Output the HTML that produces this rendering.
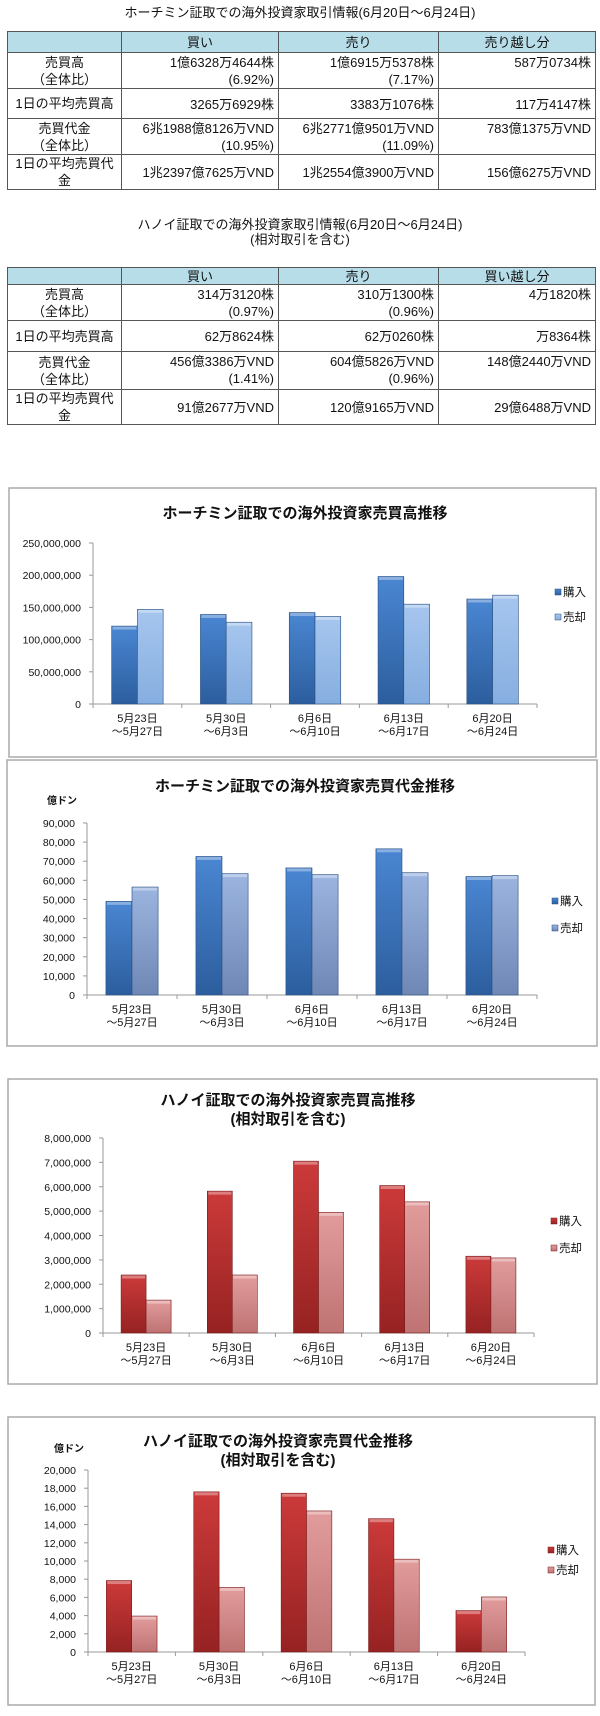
<!DOCTYPE html>
<html><head><meta charset="utf-8">
<style>
body{margin:0;background:#fff;width:600px;height:1716px;position:relative;overflow:hidden;font-family:"Liberation Sans","Noto Sans CJK JP",sans-serif;color:#111}
.ttl{position:absolute;left:0;width:600px;text-align:center;font-size:13px;line-height:15px}
table{position:absolute;left:7px;border-collapse:collapse;font-size:13px;table-layout:fixed}
td{border:1px solid #555;padding:0 4px;line-height:17px;vertical-align:top}
td.h{background:#b7dde8;text-align:center;vertical-align:middle}
td.l{text-align:center;vertical-align:middle;padding:0 2px}
td.n{text-align:right;vertical-align:top;padding-top:1px}
svg{position:absolute;left:0;top:0}
</style></head><body>
<div class="ttl" style="top:5px">ホーチミン証取での海外投資家取引情報(6月20日～6月24日)</div>
<table style="top:31px">
<colgroup><col style="width:114px"><col style="width:157px"><col style="width:160px"><col style="width:157px"></colgroup>
<tr style="height:21px"><td class="h"></td><td class="h">買い</td><td class="h">売り</td><td class="h">売り越し分</td></tr>
<tr style="height:35px"><td class="l">売買高<br>（全体比）</td><td class="n">1億6328万4644株<br>(6.92%)</td><td class="n">1億6915万5378株<br>(7.17%)</td><td class="n">587万0734株</td></tr>
<tr style="height:30px"><td class="l">1日の平均売買高</td><td class="n" style="vertical-align:middle">3265万6929株</td><td class="n" style="vertical-align:middle">3383万1076株</td><td class="n" style="vertical-align:middle">117万4147株</td></tr>
<tr style="height:35px"><td class="l">売買代金<br>（全体比）</td><td class="n">6兆1988億8126万VND<br>(10.95%)</td><td class="n">6兆2771億9501万VND<br>(11.09%)</td><td class="n">783億1375万VND</td></tr>
<tr style="height:30px"><td class="l">1日の平均売買代金</td><td class="n" style="vertical-align:middle">1兆2397億7625万VND</td><td class="n" style="vertical-align:middle">1兆2554億3900万VND</td><td class="n" style="vertical-align:middle">156億6275万VND</td></tr>
</table>
<div class="ttl" style="top:217px">ハノイ証取での海外投資家取引情報(6月20日～6月24日)<br>(相対取引を含む)</div>
<table style="top:267px">
<colgroup><col style="width:114px"><col style="width:157px"><col style="width:160px"><col style="width:157px"></colgroup>
<tr style="height:17px"><td class="h" style="line-height:15px"></td><td class="h" style="line-height:15px">買い</td><td class="h" style="line-height:15px">売り</td><td class="h" style="line-height:15px">買い越し分</td></tr>
<tr style="height:35px"><td class="l">売買高<br>（全体比）</td><td class="n">314万3120株<br>(0.97%)</td><td class="n">310万1300株<br>(0.96%)</td><td class="n">4万1820株</td></tr>
<tr style="height:31px"><td class="l">1日の平均売買高</td><td class="n" style="vertical-align:middle">62万8624株</td><td class="n" style="vertical-align:middle">62万0260株</td><td class="n" style="vertical-align:middle">万8364株</td></tr>
<tr style="height:38px"><td class="l">売買代金<br>（全体比）</td><td class="n">456億3386万VND<br>(1.41%)</td><td class="n">604億5826万VND<br>(0.96%)</td><td class="n">148億2440万VND</td></tr>
<tr style="height:32px"><td class="l">1日の平均売買代金</td><td class="n" style="vertical-align:middle">91億2677万VND</td><td class="n" style="vertical-align:middle">120億9165万VND</td><td class="n" style="vertical-align:middle">29億6488万VND</td></tr>
</table>
<svg id="charts" width="600" height="1716">
<defs>
<linearGradient id="gB" x1="0" y1="0" x2="0" y2="1"><stop offset="0" stop-color="#4a86d2"/><stop offset="1" stop-color="#2c5e9e"/></linearGradient>
<linearGradient id="gLB" x1="0" y1="0" x2="0" y2="1"><stop offset="0" stop-color="#a6c6ee"/><stop offset="1" stop-color="#86aee0"/></linearGradient>
<linearGradient id="gGB" x1="0" y1="0" x2="0" y2="1"><stop offset="0" stop-color="#9bb5e0"/><stop offset="1" stop-color="#6f87b5"/></linearGradient>
<linearGradient id="gR" x1="0" y1="0" x2="0" y2="1"><stop offset="0" stop-color="#cc3a3a"/><stop offset="1" stop-color="#962222"/></linearGradient>
<linearGradient id="gLR" x1="0" y1="0" x2="0" y2="1"><stop offset="0" stop-color="#e29c9c"/><stop offset="1" stop-color="#bf7373"/></linearGradient>
</defs>
</svg>
<script>
const categoriesL1 = ["5月23日","5月30日","6月6日","6月13日","6月20日"];
const categoriesL2 = ["～5月27日","～6月3日","～6月10日","～6月17日","～6月24日"];
const hcmVolBuy = [121000000,139000000,142000000,198000000,163000000];
const hcmVolSell = [147000000,127000000,136000000,155000000,169000000];
const hcmVolTicks = ["0","50,000,000","100,000,000","150,000,000","200,000,000","250,000,000"];
const hcmValBuy = [49000,72500,66500,76500,62000];
const hcmValSell = [56500,63500,63000,64000,62500];
const hcmValTicks = ["0","10,000","20,000","30,000","40,000","50,000","60,000","70,000","80,000","90,000"];
const hnVolBuy = [2380000,5820000,7050000,6050000,3150000];
const hnVolSell = [1350000,2380000,4950000,5380000,3080000];
const hnVolTicks = ["0","1,000,000","2,000,000","3,000,000","4,000,000","5,000,000","6,000,000","7,000,000","8,000,000"];
const hnValBuy = [7850,17600,17450,14650,4550];
const hnValSell = [3950,7100,15500,10200,6050];
const hnValTicks = ["0","2,000","4,000","6,000","8,000","10,000","12,000","14,000","16,000","18,000","20,000"];
const legendNames = ["購入","売却"];

const svg = document.getElementById('charts');
const NS = 'http://www.w3.org/2000/svg';
function mk(tag, attrs){const e=document.createElementNS(NS,tag);for(const k in attrs)e.setAttribute(k,attrs[k]);svg.appendChild(e);return e;}
function txt(x,y,s,size,anchor,weight){const t=mk('text',{x:x,y:y,'font-size':size,'text-anchor':anchor||'start','font-weight':weight||'normal','font-family':'"Liberation Sans","Noto Sans CJK JP",sans-serif',fill:'#111'});t.textContent=s;return t;}

function chart(c){
  const box=mk('rect',{x:c.bx,y:c.by,width:c.bw,height:c.bh,fill:'#fff',stroke:'#aaa','stroke-width':1.5});
  
  
  c.titles.forEach((t,i)=>{const e=txt(c.tx,c.ty+i*19,t,15,'middle','bold');
    
    });
  if(c.unit){const u=txt(c.ux,c.uy,'億ドン',10,'start','bold');
    
    }
  const maxV=parseFloat(c.ticks[c.ticks.length-1].replace(/,/g,''));
  const y=v=>c.y0-(v/maxV)*(c.y0-c.y1);
  const cw=(c.x1-c.x0)/c.buy.length;
  const xc=i=>c.x0+cw*(i+0.5);
  const bw=cw*0.29;
  c.ticks.forEach(t=>{const v=parseFloat(t.replace(/,/g,''));
    const tl=txt(c.x0-12,y(v)+4,t,10.5,'end');
    
    
    mk('line',{x1:c.x0-4,x2:c.x0,y1:y(v),y2:y(v),stroke:'#999'});});
  mk('line',{x1:c.x0,x2:c.x0,y1:c.y1,y2:c.y0,stroke:'#999'});
  mk('line',{x1:c.x0,x2:c.x1,y1:c.y0,y2:c.y0,stroke:'#999'});
  for(let i=0;i<=c.buy.length;i++)mk('line',{x1:c.x0+cw*i,x2:c.x0+cw*i,y1:c.y0,y2:c.y0+4,stroke:'#999'});
  [[c.buy,c.g1,'buy'],[c.sell,c.g2,'sell']].forEach((s,si)=>{
    s[0].forEach((v,i)=>{
      const x=xc(i)-bw+si*bw;
      const r=mk('rect',{x:x,y:y(v),width:bw,height:c.y0-y(v),fill:'url(#'+s[1]+')',stroke:c.edge,'stroke-width':0.6});
      
      
      mk('rect',{x:x+1,y:y(v)+0.5,width:bw-2,height:3,fill:'#fff','fill-opacity':0.35});
    });
  });
  categoriesL1.forEach((l,i)=>{
    const a=txt(xc(i),c.y0+18,l,11,'middle');
    
    
    const b=txt(xc(i),c.y0+31,categoriesL2[i],11,'middle');
    
    
  });
  legendNames.forEach((n,i)=>{
    mk('rect',{x:c.lx,y:c.ly+i*c.lg-7,width:6,height:6,fill:'url(#'+(i?c.g2:c.g1)+')',stroke:c.edge,'stroke-width':0.5});
    const e=txt(c.lx+8,c.ly+i*c.lg,n,11.5,'start');
    
    
  });
}
chart({id:'hcm-volume',bx:9,by:488,bw:587,bh:269,titles:['ホーチミン証取での海外投資家売買高推移'],tx:305,ty:518,
  ticks:hcmVolTicks,buy:hcmVolBuy,sell:hcmVolSell,x0:93,x1:537,y0:704,y1:543,g1:'gB',g2:'gLB',edge:'#2a4f80',lx:555,ly:596,lg:25});
chart({id:'hcm-value',bx:7,by:760,bw:590,bh:286,titles:['ホーチミン証取での海外投資家売買代金推移'],tx:305,ty:791,unit:1,ux:47,uy:804,
  ticks:hcmValTicks,buy:hcmValBuy,sell:hcmValSell,x0:87,x1:537,y0:995,y1:823,g1:'gB',g2:'gGB',edge:'#2a4f80',lx:552,ly:905,lg:27});
chart({id:'hanoi-volume',bx:8,by:1079,bw:589,bh:305,titles:['ハノイ証取での海外投資家売買高推移','(相対取引を含む)'],tx:288,ty:1105,
  ticks:hnVolTicks,buy:hnVolBuy,sell:hnVolSell,x0:103,x1:534,y0:1333,y1:1138,g1:'gR',g2:'gLR',edge:'#7a1c1c',lx:551,ly:1225,lg:27});
chart({id:'hanoi-value',bx:8,by:1417,bw:587,bh:288,titles:['ハノイ証取での海外投資家売買代金推移','(相対取引を含む)'],tx:278,ty:1446,unit:1,ux:54,uy:1452,
  ticks:hnValTicks,buy:hnValBuy,sell:hnValSell,x0:88,x1:525,y0:1652,y1:1470,g1:'gR',g2:'gLR',edge:'#7a1c1c',lx:548,ly:1554,lg:20});
</script>
</body></html>
